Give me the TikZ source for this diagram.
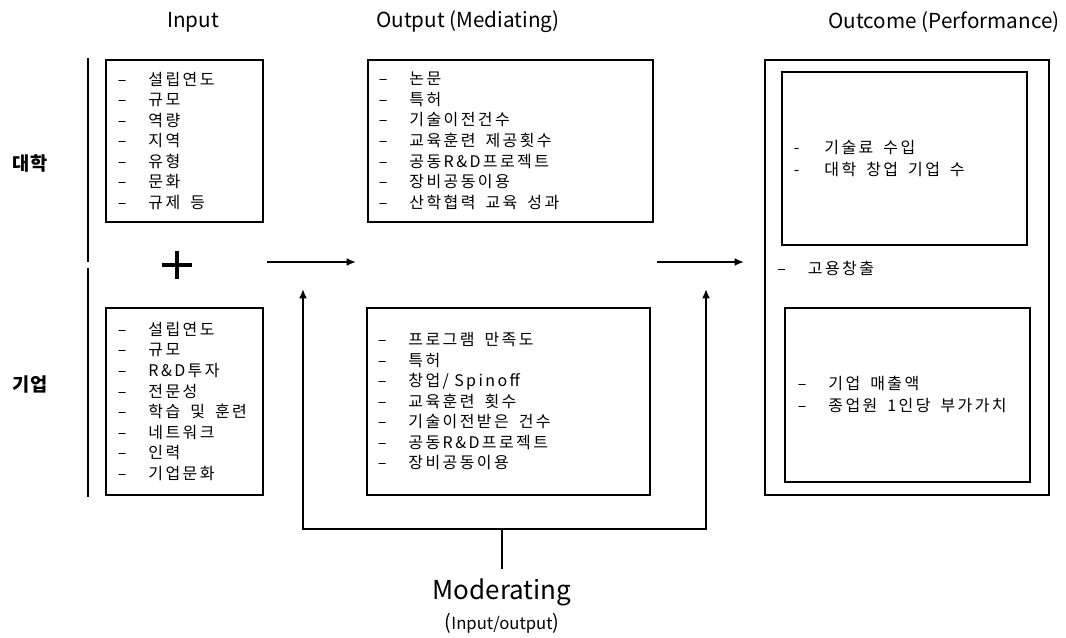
\documentclass[tikz,border=0pt]{standalone}
\usepackage{fontspec}
\setmainfont{Noto Sans CJK KR}
\newfontfamily\listfont{Noto Sans CJK KR}[LetterSpace=15]
\usetikzlibrary{arrows.meta}

% list entry: dash, gap, text
\newcommand{\itm}[2][\textendash]{\makebox[23pt][l]{#1}#2}
\newcommand{\wsp}{\hspace{7.5pt}}

\tikzset{
  ltext/.style={align=left, inner ysep=0pt, font=\listfont\fontsize{12}{15.4}\selectfont},
  lbox/.style={ltext, draw, line width=1.2pt, anchor=north west},
  ttl/.style={font=\fontsize{15.5}{18}\selectfont},
  side/.style={font=\fontsize{14}{16}\selectfont\bfseries},
  arr/.style={line width=1.8pt, -{Latex[length=7pt,width=6pt]}},
  fb/.style={line width=2.2pt},
}

\begin{document}
\begin{tikzpicture}[x=0.75pt,y=-0.75pt]
\useasboundingbox (0,0) rectangle (1066,637);

% column titles
\node[ttl] (tin) at (193,22) {Input};
\node[ttl] (tmed) at (468,22) {Output (Mediating)};
\node[ttl] (tout) at (944,22) {Outcome (Performance)};

% input side
\draw[line width=1pt] (88,58) -- (88,262) (88,268) -- (88,497);
\node[side] (univ) at (30,163) {대학};
\node[side] (firm) at (30,384) {기업};

\node[lbox, minimum height=121.5pt, text width=99.75pt, inner xsep=9pt] (uin) at (105,59)
  {\itm{설립연도}\\ \itm{규모}\\ \itm{역량}\\ \itm{지역}\\ \itm{유형}\\ \itm{문화}\\ \itm{규제\wsp 등}};
\node[lbox, minimum height=140.25pt, text width=99.75pt, inner xsep=9pt] (fin) at (105,307)
  {\itm{설립연도}\\ \itm{규모}\\ \itm{R\&D투자}\\ \itm{전문성}\\ \itm{학습\wsp 및\wsp 훈련}\\ \itm{네트워크}\\ \itm{인력}\\ \itm{기업문화}};

\draw[line width=2.6pt] (162,265) -- (192,265) (177,251) -- (177,279);

% mediating
\node[lbox, minimum height=121.5pt, text width=197.25pt, inner xsep=8.25pt] (mtop) at (367,59)
  {\itm{논문}\\ \itm{특허}\\ \itm{기술이전건수}\\ \itm{교육훈련\wsp 제공횟수}\\ \itm{공동R\&D프로젝트}\\ \itm{장비공동이용}\\ \itm{산학협력\wsp 교육\wsp 성과}};
\node[lbox, minimum height=140.25pt, text width=195.75pt, inner xsep=8.25pt] (mbot) at (366,307)
  {\itm{프로그램\wsp 만족도}\\ \itm{특허}\\ \itm{창업/ Spinoff}\\ \itm{교육훈련\wsp 횟수}\\ \itm{기술이전받은\wsp 건수}\\ \itm{공동R\&D프로젝트}\\ \itm{장비공동이용}};

\coordinate (a1s) at (267,262);
\coordinate (a1e) at (356,262);
\draw[arr] (a1s) -- (a1e);
\coordinate (a2s) at (657,262);
\coordinate (a2e) at (744,262);
\draw[arr] (a2s) -- (a2e);

% outcome
\node[draw, line width=1.2pt, anchor=north west, minimum width=213pt, minimum height=326.25pt, inner sep=0pt] (oout) at (764,59) {};
\node[lbox, minimum height=129.75pt, text width=165.75pt, inner xsep=9pt, font=\listfont\fontsize{12}{16.5}\selectfont] (otop) at (781,71)
  {\itm[-]{기술료\wsp 수입}\\ \itm[-]{대학\wsp 창업\wsp 기업\wsp 수}};
\node[ltext, anchor=west, inner xsep=0pt] (emp) at (777,268) {\itm{고용창출}};
\node[lbox, minimum height=130.5pt, text width=164.25pt, inner xsep=9.75pt, font=\listfont\fontsize{12}{16.5}\selectfont] (obot) at (784,307)
  {\itm{기업\wsp 매출액}\\ \itm{종업원\wsp 1인당\wsp 부가가치}};

% moderating
\node[font=\fontsize{19.5}{22}\selectfont] (mod) at (502,592) {Moderating};
\node (modsub) at (502,623) {{\fontsize{15}{15}\selectfont(}{\fontsize{12.5}{13}\selectfont Input/output}{\fontsize{15}{15}\selectfont)}};

\coordinate (stem) at (502,569);
\coordinate (fork) at (502,529);
\coordinate (fbl) at (303,289);
\coordinate (fbr) at (706,289);
\draw[fb] (stem) -- (fork);
\draw[fb, -{Latex[length=7pt,width=6pt]}] (fork) -| (fbl);
\draw[fb, -{Latex[length=7pt,width=6pt]}] (fork) -| (fbr);

\end{tikzpicture}
\end{document}
